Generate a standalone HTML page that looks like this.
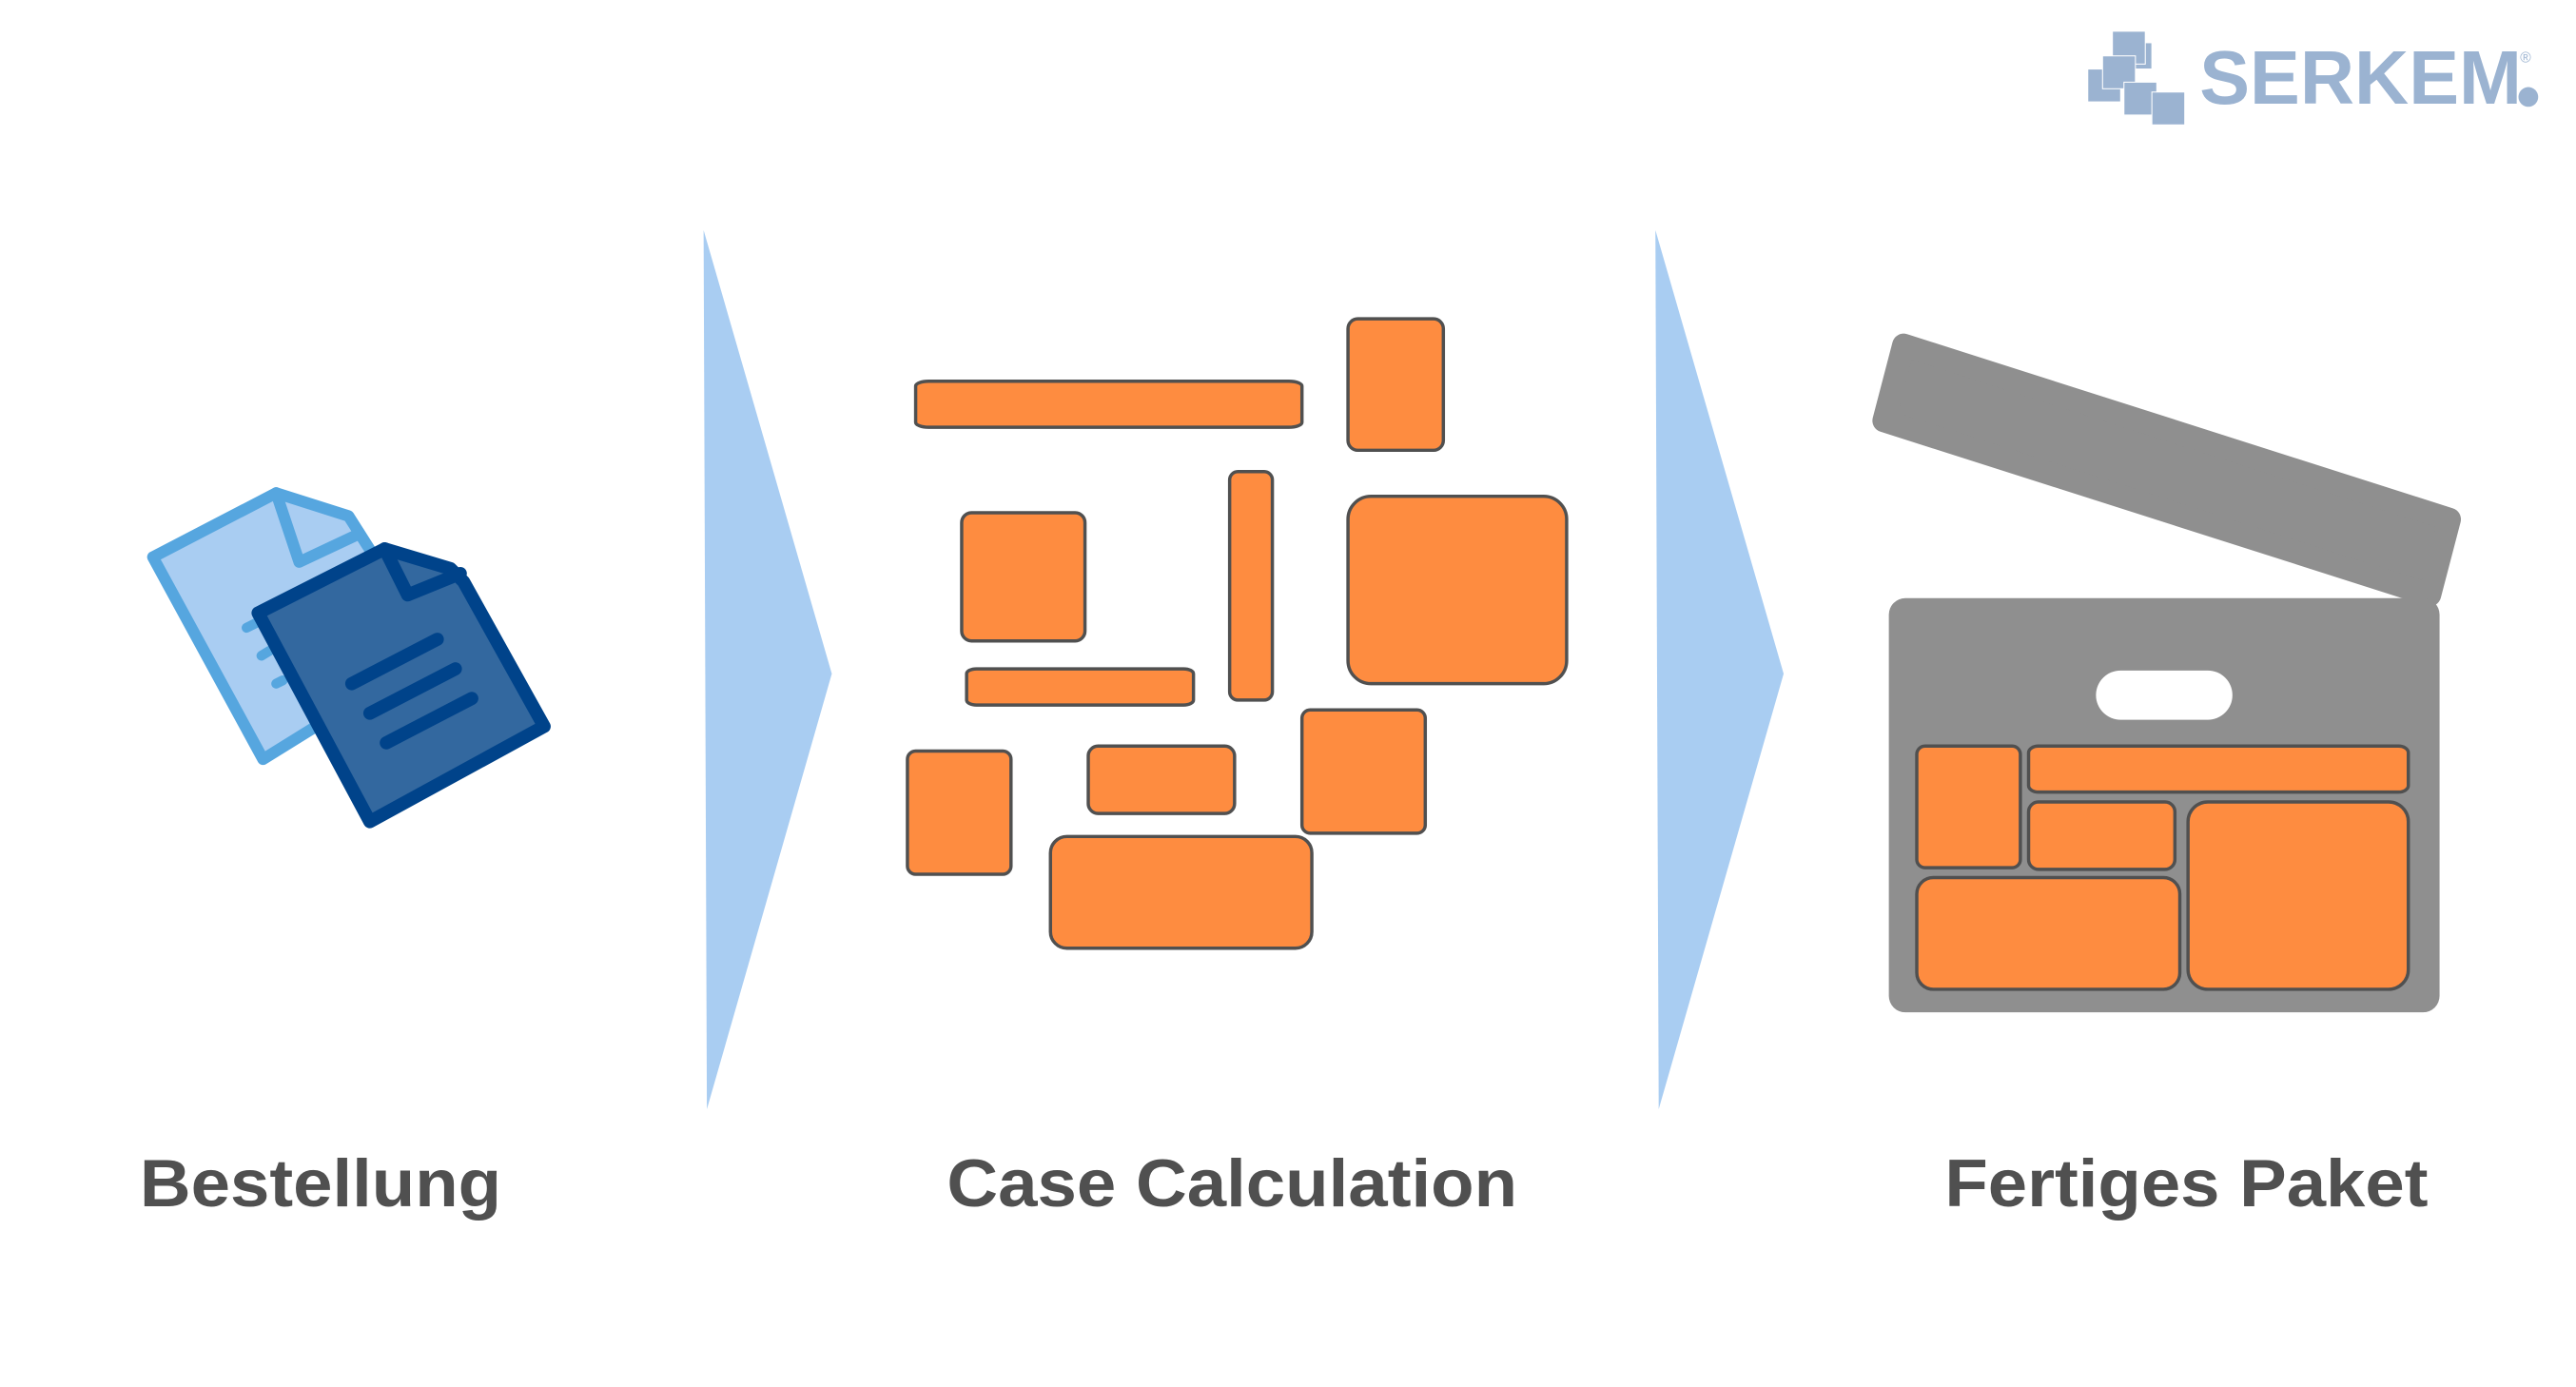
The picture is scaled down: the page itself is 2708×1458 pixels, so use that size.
<!DOCTYPE html>
<html><head><meta charset="utf-8"><style>html,body{margin:0;padding:0;background:#fff;width:2708px;height:1458px;overflow:hidden}svg{display:block}</style></head>
<body>
<svg width="2708" height="1458" viewBox="0 0 1567 844" preserveAspectRatio="none" xmlns="http://www.w3.org/2000/svg">
<!-- logo -->
<g fill="#9bb3d1" stroke="#fff" stroke-width="0.6">
<rect x="1270" y="42" width="20" height="20"/>
<rect x="1293" y="26" width="16" height="16"/>
<rect x="1285" y="19" width="20" height="20"/>
<rect x="1279" y="34" width="20" height="20"/>
<rect x="1292" y="50" width="20" height="20"/>
<rect x="1309" y="56" width="20" height="20"/>
</g>
<text x="1338" y="63" font-family="Liberation Sans, sans-serif" font-weight="bold" font-size="46" fill="#9bb3d1" textLength="196" lengthAdjust="spacingAndGlyphs">SERKEM</text>
<circle cx="1538" cy="59" r="6" fill="#9bb3d1"/>
<text x="1533" y="38" font-family="Liberation Sans, sans-serif" font-size="9" fill="#9bb3d1">®</text>
<!-- arrows -->
<polygon points="428,140 506,410 430,675" fill="#a9cdf2"/>
<polygon points="1007,140 1085,410 1009,675" fill="#a9cdf2"/>
<!-- documents -->
<g stroke-linejoin="round" stroke-linecap="round">
<polygon points="93,339 168,300 212,314 226,336 260,400 160,462" fill="#a9cdf2" stroke="#56a6df" stroke-width="7"/>
<polyline points="168,300 182,342 216,326" fill="none" stroke="#56a6df" stroke-width="7"/>
<g stroke="#56a6df" stroke-width="6"><line x1="150" y1="382" x2="156" y2="379"/><line x1="159" y1="399" x2="164" y2="396"/><line x1="168" y1="416" x2="172" y2="414"/></g>
<polygon points="157,373 234,334 274,346 282,354 331,442 225,500" fill="#33689f" stroke="#00438a" stroke-width="8"/>
<polyline points="234,334 248,362 280,349" fill="none" stroke="#00438a" stroke-width="8"/>
<g stroke="#00438a" stroke-width="8"><line x1="214" y1="416" x2="266" y2="389"/><line x1="225" y1="434" x2="277" y2="407"/><line x1="235" y1="452" x2="287" y2="425"/></g>
</g>
<!-- orange boxes -->
<g fill="#fe8c40" stroke="#505050" stroke-width="2">
<rect x="557" y="232" width="235" height="28" rx="8" ry="3"/>
<rect x="820" y="194" width="58" height="80" rx="6"/>
<rect x="585" y="312" width="75" height="78" rx="6"/>
<rect x="748" y="287" width="26" height="139" rx="5"/>
<rect x="820" y="302" width="133" height="114" rx="14"/>
<rect x="588" y="407" width="138" height="22" rx="6" ry="3"/>
<rect x="552" y="457" width="63" height="75" rx="5"/>
<rect x="662" y="454" width="89" height="41" rx="6"/>
<rect x="792" y="432" width="75" height="75" rx="5"/>
<rect x="639" y="509" width="159" height="68" rx="10"/>
</g>
<!-- box -->
<polygon points="1158,210 1490,316 1478,362 1146,256" fill="#8f8f8f" stroke="#8f8f8f" stroke-width="14" stroke-linejoin="round"/>
<rect x="1149" y="364" width="335" height="252" rx="10" fill="#8f8f8f"/>
<rect x="1275" y="408" width="83" height="30" rx="15" fill="#fff"/>
<g fill="#fe8c40" stroke="#505050" stroke-width="2">
<rect x="1166" y="454" width="63" height="74" rx="5"/>
<rect x="1234" y="454" width="231" height="28" rx="6" ry="4"/>
<rect x="1234" y="488" width="89" height="41" rx="6"/>
<rect x="1331" y="488" width="134" height="114" rx="12"/>
<rect x="1166" y="534" width="160" height="68" rx="10"/>
</g>
<!-- labels -->
<g font-family="Liberation Sans, sans-serif" font-weight="bold" font-size="41" fill="#505050">
<text x="85" y="734" textLength="220" lengthAdjust="spacingAndGlyphs">Bestellung</text>
<text x="576" y="734" textLength="347" lengthAdjust="spacingAndGlyphs">Case Calculation</text>
<text x="1183" y="734" textLength="294" lengthAdjust="spacingAndGlyphs">Fertiges Paket</text>
</g>
</svg>
</body></html>
